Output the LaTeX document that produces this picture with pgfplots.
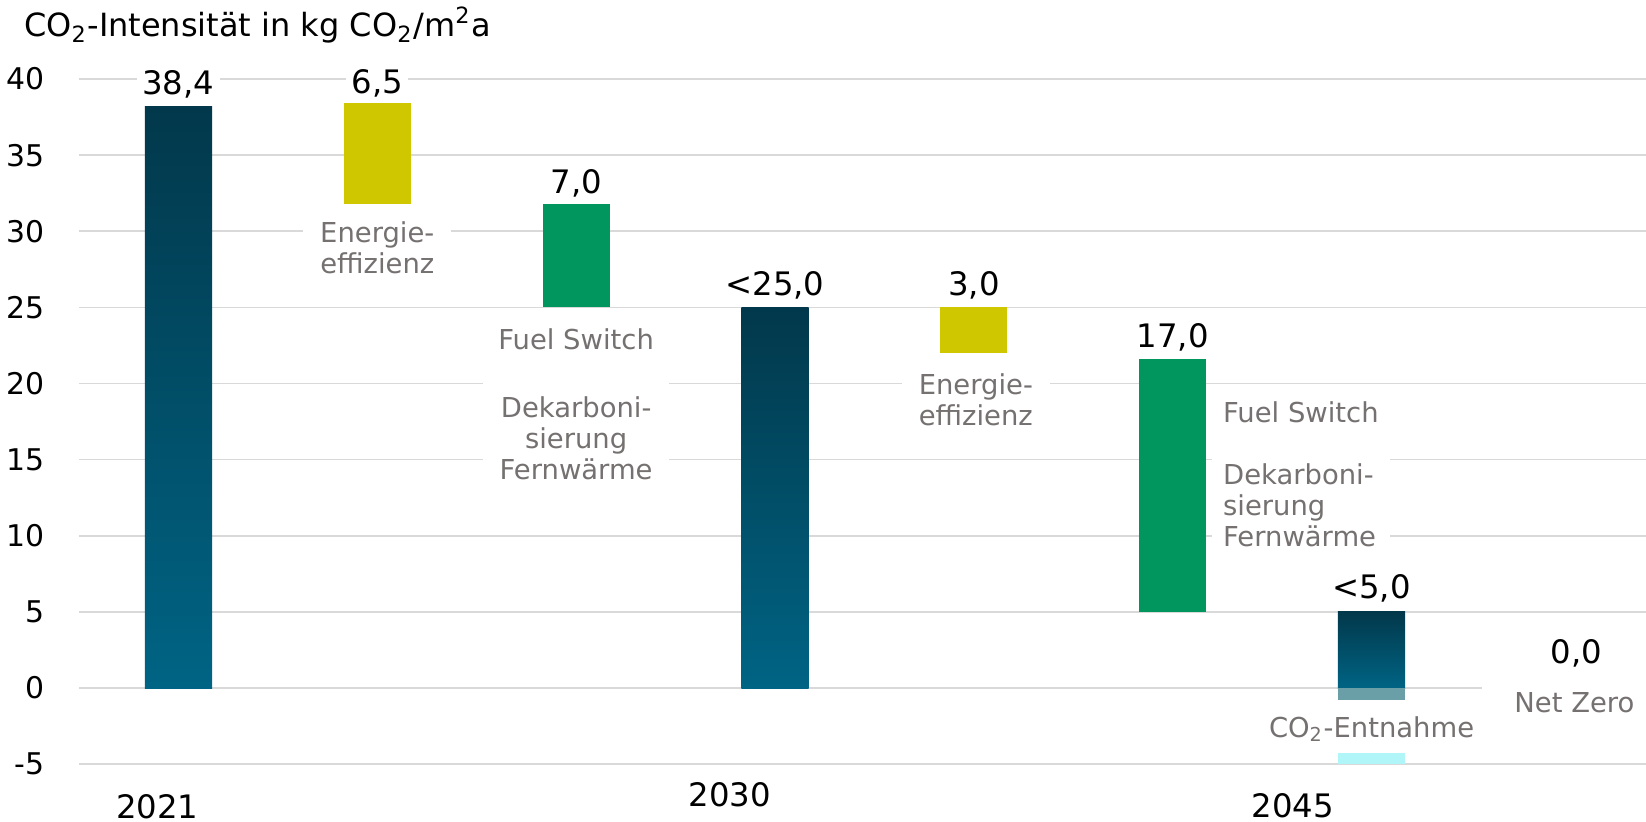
\documentclass[border=0pt]{standalone}
\usepackage{fontspec}
\setmainfont{DejaVu Sans}
\usepackage{pgfplots}
\pgfplotsset{compat=1.18}
\definecolor{darkT}{HTML}{02384B}
\definecolor{darkB}{HTML}{006484}
\definecolor{tealL}{HTML}{6A9FA7}
\definecolor{cyanL}{HTML}{B0F6F8}
\definecolor{yel}{HTML}{CFC800}
\definecolor{grn}{HTML}{00965E}
\definecolor{grayt}{HTML}{767171}
\definecolor{gridc}{HTML}{D9D9D9}
\newcommand{\vfont}{\fontsize{9.2}{11}\selectfont}
\newcommand{\tfont}{\fontsize{8.5}{10}\selectfont}
\newcommand{\hfont}{\fontsize{9.1}{11}\selectfont}
\newcommand{\gfont}{\fontsize{7.8}{8.82}\selectfont}
\begin{document}
\begin{tikzpicture}
\begin{axis}[
  scale only axis, width=15.67cm, height=6.853cm,
  xmin=-0.5, xmax=7.38, ymin=-5, ymax=40,
  ytick={-5,0,5,10,15,20,25,30,35,40},
  xtick={-0.106,2.773,5.604},
  xticklabels={\raisebox{-0.12cm}{2021},2030,\raisebox{-0.11cm}{2045}},
  axis line style={draw=none}, major tick length=0pt,
  ymajorgrids, grid style={color=gridc, line width=0.45pt},
  /pgf/number format/assume math mode=true,
  yticklabel style={font=\tfont, xshift=-0.22cm},
  xticklabel style={font=\vfont, anchor=base, yshift=-0.424cm},
  clip=false,
]
% ground-based bars
\addplot[ybar, bar width=0.338, bar shift=0pt, draw=none, shading=axis, top color=darkT, bottom color=darkB] coordinates {(0,38.2)};
\addplot[ybar, bar width=0.338, bar shift=0pt, draw=none, shading=axis, top color=darkT, bottom color=darkB] coordinates {(3,25.0)};
\addplot[ybar, bar width=0.338, bar shift=0pt, draw=none, shading=axis, top color=darkT, bottom color=darkB] coordinates {(6,5.0)};
\addplot[ybar, bar width=0.338, bar shift=0pt, draw=none, fill=tealL] coordinates {(6,-0.8)};
% floating bars
\addplot[draw=none, fill=yel] coordinates {(0.831,31.8) (1.169,31.8) (1.169,38.4) (0.831,38.4)} -- cycle;
\addplot[draw=none, fill=grn] coordinates {(1.831,25.0) (2.169,25.0) (2.169,31.8) (1.831,31.8)} -- cycle;
\addplot[draw=none, fill=yel] coordinates {(3.831,22.0) (4.169,22.0) (4.169,25.0) (3.831,25.0)} -- cycle;
\addplot[draw=none, fill=grn] coordinates {(4.831,5.0) (5.169,5.0) (5.169,21.6) (4.831,21.6)} -- cycle;
\addplot[draw=none, fill=cyanL] coordinates {(5.831,-5.0) (6.169,-5.0) (6.169,-4.25) (5.831,-4.25)} -- cycle;
% gray labels (anchor base = last line)
\node[font=\gfont, text=grayt, align=center, anchor=base, fill=white, inner xsep=0.17cm, inner ysep=2pt] at (axis cs:1,27.23) {Energie-\\effizienz};
\node[font=\gfont, text=grayt, align=center, anchor=base, fill=white, inner xsep=0.15cm, inner ysep=2pt] at (axis cs:2,13.71) {Fuel Switch\\[0.37cm]Dekarboni-\\sierung\\Fernwärme};
\node[font=\gfont, text=grayt, align=center, anchor=base, fill=white, inner xsep=0.17cm, inner ysep=2pt] at (axis cs:4.01,17.26) {Energie-\\effizienz};
\node[font=\gfont, text=grayt, align=left, anchor=base west, fill=white, inner xsep=0.11cm, inner ysep=2pt] at (axis cs:5.195,9.33) {Fuel Switch\\[0.31cm]Dekarboni-\\sierung\\Fernwärme};
\node[font=\gfont, text=grayt, anchor=base, fill=white, inner sep=2pt] at (axis cs:6,-3.22) {CO\textsubscript{2}-Entnahme};
\node[font=\gfont, text=grayt, anchor=base, fill=white, inner xsep=0.32cm, inner ysep=0.1cm] at (axis cs:7.02,-1.62) {Net Zero};
% value labels
\node[font=\vfont, anchor=base, fill=white, inner sep=1.5pt] at (axis cs:0,39.0) {38,4};
\node[font=\vfont, anchor=base, fill=white, inner sep=1.5pt] at (axis cs:1,39.05) {6,5};
\node[font=\vfont, anchor=base, fill=white, inner sep=1.5pt] at (axis cs:2,32.5) {7,0};
\node[font=\vfont, anchor=base, fill=white, inner sep=1.5pt] at (axis cs:3,25.8) {<25,0};
\node[font=\vfont, anchor=base, fill=white, inner sep=1.5pt] at (axis cs:4,25.8) {3,0};
\node[font=\vfont, anchor=base, fill=white, inner sep=1.5pt] at (axis cs:5,22.35) {17,0};
\node[font=\vfont, anchor=base, fill=white, inner sep=1.5pt] at (axis cs:6,5.9) {<5,0};
\node[font=\vfont, anchor=base, fill=white, inner sep=1.5pt] at (axis cs:7.03,1.62) {0,0};
% title
\node[font=\hfont, anchor=base west, inner sep=0pt, xshift=-0.557cm, yshift=0.423cm] at (rel axis cs:0,1) {CO\textsubscript{2}-Intensität in kg CO\textsubscript{2}/m\textsuperscript{2}a};
\coordinate (bl) at (rel axis cs:0,0);
\coordinate (tr) at (rel axis cs:1,1);
\end{axis}
\pgfresetboundingbox
\path ([xshift=-0.79cm,yshift=-0.577cm]bl) rectangle ([yshift=0.79cm]tr);
\end{tikzpicture}
\end{document}
